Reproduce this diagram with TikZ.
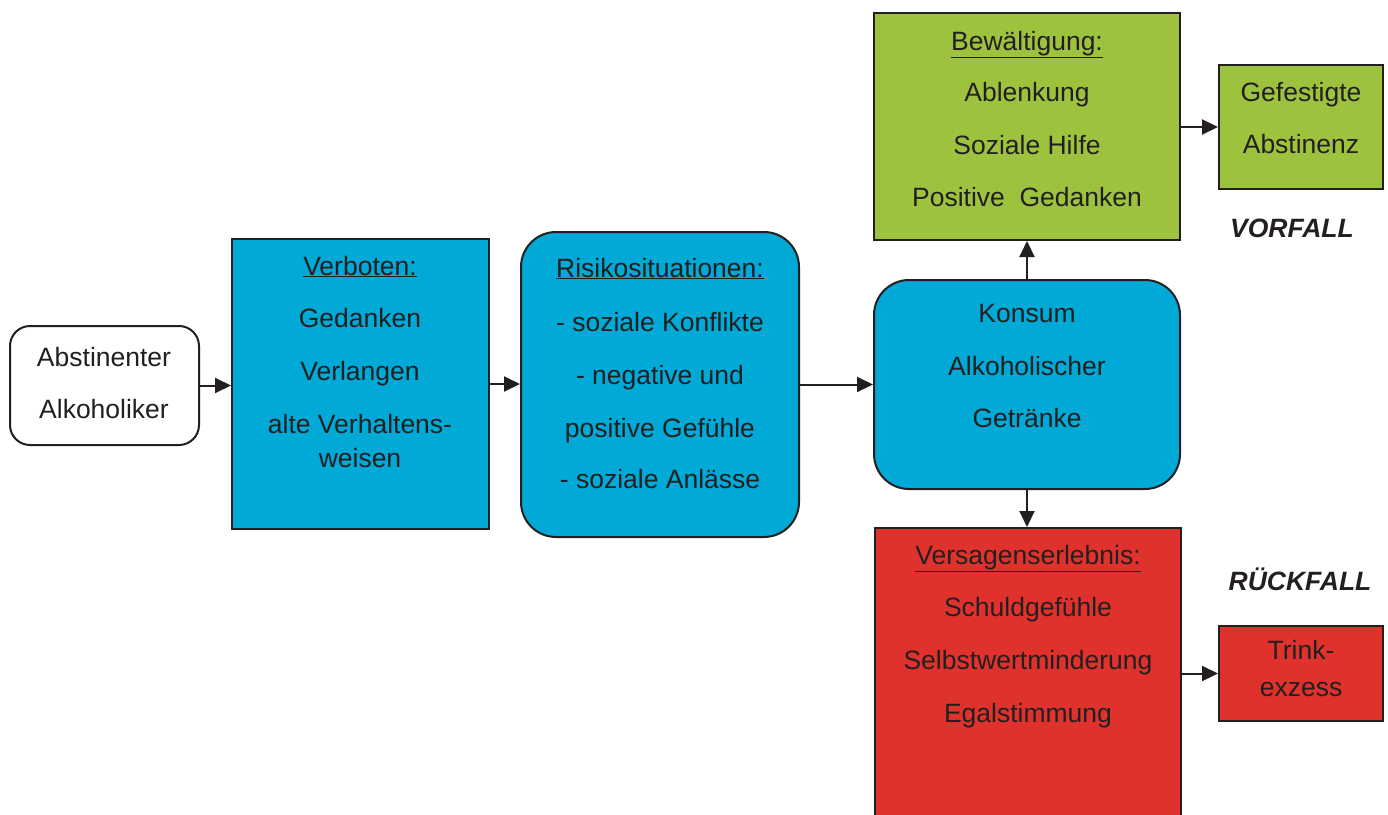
\documentclass[tikz,border=0pt]{standalone}
\usepackage{fontspec}
\setmainfont{Liberation Sans}
\usetikzlibrary{arrows.meta}
\definecolor{cblue}{RGB}{0,169,214}
\definecolor{cgreen}{RGB}{157,195,62}
\definecolor{cred}{RGB}{224,50,44}
\definecolor{ctext}{RGB}{35,31,32}
\begin{document}
\begin{tikzpicture}[x=1pt,y=-1pt,
  box/.style={draw=ctext,line width=2pt,inner sep=0pt},
  txt/.style={anchor=base,inner sep=0pt,text=ctext,font=\fontsize{26.5}{30}\selectfont},
  lbl/.style={anchor=base,inner sep=0pt,text=ctext,font=\fontsize{26.5}{30}\selectfont\bfseries\itshape},
  arr/.style={draw=ctext,line width=2pt,-{Triangle[length=16pt,width=15pt]}}]
\useasboundingbox (0,0) rectangle (1388,814);
% boxes
\node[box,fill=white,rounded corners=20pt,minimum width=189pt,minimum height=119pt] (abs) at (104.5,385.5) {};
\node[box,fill=cblue,minimum width=257pt,minimum height=290pt] (verb) at (360.5,384) {};
\node[box,fill=cblue,rounded corners=35pt,minimum width=278pt,minimum height=305pt] (risk) at (660,384.5) {};
\node[box,fill=cblue,rounded corners=35pt,minimum width=306pt,minimum height=209pt] (kons) at (1027,384.5) {};
\node[box,fill=cgreen,minimum width=306pt,minimum height=227pt] (bew) at (1027,126.5) {};
\node[box,fill=cgreen,minimum width=164pt,minimum height=124pt] (gef) at (1301,127) {};
\node[box,fill=cred,minimum width=306pt,minimum height=310pt] (vers) at (1028,683) {};
\node[box,fill=cred,minimum width=164pt,minimum height=95pt] (trink) at (1301,673.5) {};
% texts
\node[txt] (a1) at (104,366) {Abstinenter};
\node[txt] (a2) at (104,418) {Alkoholiker};
\node[txt] (v1) at (360,275) {\underline{Verboten:}};
\node[txt] (v2) at (360,327) {Gedanken};
\node[txt] (v3) at (360,380) {Verlangen};
\node[txt] (v4) at (360,433) {alte Verhaltens-};
\node[txt] (v5) at (360,467) {weisen};
\node[txt] (r1) at (660,277) {\underline{Risikosituationen:}};
\node[txt] (r2) at (660,331) {- soziale Konflikte};
\node[txt] (r3) at (660,384) {- negative und};
\node[txt] (r4) at (660,437) {positive Gefühle};
\node[txt] (r5) at (660,488) {- soziale Anlässe};
\node[txt] (k1) at (1027,322) {Konsum};
\node[txt] (k2) at (1027,375) {Alkoholischer};
\node[txt] (k3) at (1027,427) {Getränke};
\node[txt] (b1) at (1027,50) {\underline{Bewältigung:}};
\node[txt] (b2) at (1027,101) {Ablenkung};
\node[txt] (b3) at (1027,154) {Soziale Hilfe};
\node[txt] (b4) at (1027,206) {Positive\ \ Gedanken};
\node[txt] (g1) at (1301,101) {Gefestigte};
\node[txt] (g2) at (1301,153) {Abstinenz};
\node[txt] (e1) at (1028,564) {\underline{Versagenserlebnis:}};
\node[txt] (e2) at (1028,616) {Schuldgefühle};
\node[txt] (e3) at (1028,669) {Selbstwertminderung};
\node[txt] (e4) at (1028,722) {Egalstimmung};
\node[txt] (t1) at (1301,659) {Trink-};
\node[txt] (t2) at (1301,696) {exzess};
\node[lbl] (vf) at (1292,237) {VORFALL};
\node[lbl] (rf) at (1300,590) {RÜCKFALL};
% arrows
\draw[arr] (abs.east) -- (abs.east -| verb.west);
\draw[arr] (verb.east) -- (verb.east -| risk.west);
\draw[arr] (risk.east) -- (risk.east -| kons.west);
\draw[arr] (kons.north) -- (bew.south);
\draw[arr] (kons.south) -- (kons.south |- vers.north);
\draw[arr] (bew.east |- gef.west) -- (gef.west);
\draw[arr] (vers.east |- trink.west) -- (trink.west);
\end{tikzpicture}
\end{document}
